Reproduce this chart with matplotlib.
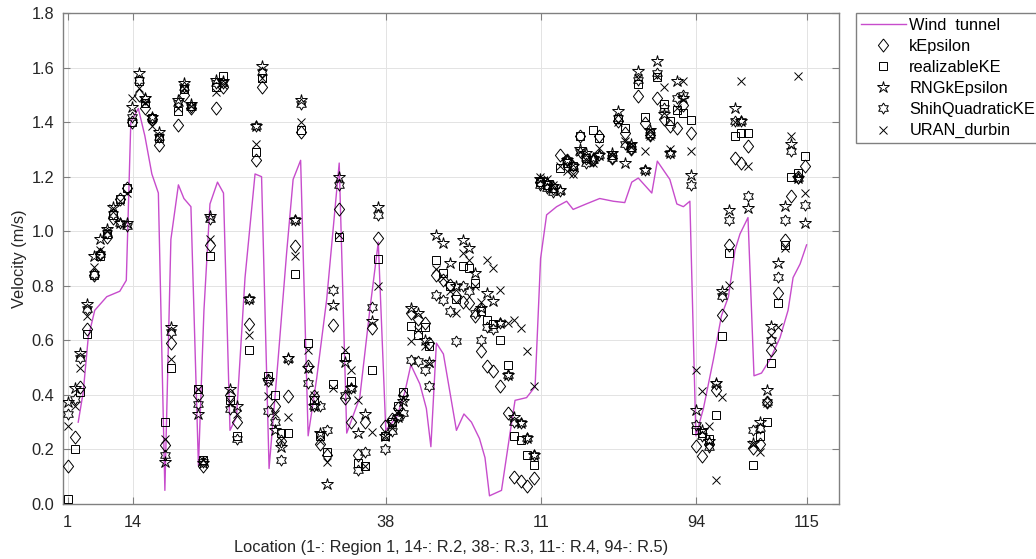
import numpy as np
import matplotlib
matplotlib.use("Agg")
import matplotlib.pyplot as plt

plt.rcParams["font.family"] = ["Liberation Sans", "DejaVu Sans"]
plt.rcParams["font.size"] = 11.8

# ── Data ───────────────────────────────────────────────────────
# wind tunnel measurement (line)
WT_X = [3.1, 4.1, 5.1, 6.4, 8.8, 11.4, 12.7, 13.6, 15.1, 16.4, 17.8, 19.1, 20.4, 21.6,
        23.1, 24.2, 25.6, 27.1, 28.2, 29.4, 30.9, 32.1, 33.4, 34.7, 36.4, 38.4, 39.7,
        41.2, 43.0, 44.7, 46.0, 47.5, 49.0, 50.7, 52.7, 55.2, 56.7, 57.7, 59.3, 61.3,
        63.0, 64.5, 66.7, 68.3, 69.5, 71.3, 72.6, 73.5, 74.6, 76.0, 77.3, 78.6, 80.1,
        81.6, 83.2, 84.3, 85.2, 87.6, 89.3, 90.3, 92.6, 94.3, 95.4, 96.6, 98.6, 100.6,
        101.9, 104.5, 107.2, 109.9, 112.2, 113.6, 114.9, 117.6, 118.7, 121.2, 122.6,
        123.9, 125.2, 126.4, 127.9, 129.9, 131.5, 132.9, 134.2, 135.2, 136.8, 138.0,
        139.5, 141.2, 143.2, 144.8, 145.8, 147.2, 148.5]
WT_V = [0.30, 0.41, 0.61, 0.71, 0.76, 0.78, 0.82, 1.40, 1.45, 1.35, 1.21, 1.14, 0.05, 0.97,
        1.17, 1.12, 1.09, 0.14, 0.71, 1.10, 1.18, 1.14, 0.27, 0.32, 0.83, 1.21, 1.20,
        0.13, 0.53, 0.92, 1.19, 1.26, 0.25, 0.46, 0.75, 1.25, 0.26, 0.31, 0.39, 0.71,
        0.96, 0.27, 0.32, 0.41, 0.51, 0.44, 0.35, 0.21, 0.59, 0.55, 0.41, 0.27, 0.33,
        0.30, 0.24, 0.17, 0.03, 0.05, 0.26, 0.38, 0.39, 0.43, 0.90, 1.06, 1.09, 1.11,
        1.08, 1.10, 1.12, 1.11, 1.105, 1.18, 1.195, 1.14, 1.257, 1.19, 1.10,
        1.09, 1.11, 0.25, 0.35, 0.53, 0.69, 0.76, 0.93, 0.99, 1.05, 0.47,
        0.48, 0.53, 0.61, 0.71, 0.83, 0.88, 0.95]

# CFD sample locations (shared by all turbulence models)
LOC = [1.0, 2.4, 3.5, 4.9, 6.2, 7.4, 8.8, 10.1, 11.4, 12.8,
       13.9, 15.2, 16.5, 17.9, 19.2, 20.5, 21.6, 23.0, 24.3, 25.6,
       27.0, 28.1, 29.5, 30.7, 32.0, 33.4, 34.8, 37.2, 38.5, 39.7,
       41.0, 42.4, 43.6, 45.0, 46.4, 47.5, 48.9, 50.1, 51.4, 52.7,
       54.0, 55.2, 56.3, 57.6, 59.0, 60.4, 61.8, 63.0, 64.4, 65.7,
       66.9, 67.9, 69.6, 70.9, 72.3, 73.2, 74.6, 76.0, 77.3, 78.6,
       79.9, 81.1, 82.3, 83.5, 84.7, 85.9, 87.3, 88.8, 90.1, 91.4,
       92.7, 94.1, 95.3, 96.6, 97.9, 99.2, 100.6, 101.9, 103.2, 104.5,
       105.8, 107.1, 109.6, 110.9, 112.2, 113.5, 114.9, 116.2, 117.3, 118.7,
       120.0, 121.2, 122.6, 123.9, 125.4, 126.4, 127.7, 129.1, 130.4, 131.6,
       133.1, 134.2, 135.5, 136.9, 137.8, 139.2, 140.6, 141.4, 142.7, 144.1,
       145.4, 146.7, 148.1]

K_EPS = [.14, .245, .43, .64, .84, .915, .98, 1.05, 1.12, 1.16,
         1.40, 1.50, 1.45, 1.41, 1.315, .215, .59, 1.39, 1.50, 1.45,
         .40, .14, .95, 1.45, 1.53, .40, .30, .66, 1.26, 1.53,
         .455, .36, .23, .395, .945, 1.365, .505, .395, .22, .18,
         .657, 1.08, .39, .30, .18, .30, .645, .975, .285, .31,
         .352, .40, .70, .68, .663, .59, .84, .82, .804, .761,
         .74, .737, .688, .56, .505, .486, .431, .333, .10, .083,
         .065, .095, 1.18, 1.17, 1.16, 1.28, 1.26, 1.22, 1.348, 1.27,
         1.262, 1.348, 1.27, 1.403, 1.36, 1.30, 1.494, 1.397, 1.354, 1.488,
         1.41, 1.384, 1.378, 1.464, 1.36, .211, .175, .22, .419, .694,
         .95, 1.268, 1.25, 1.311, .205, .22, .375, .566, .773, .969,
         1.128, 1.20, 1.238]

REAL_KE = [.02, .20, .41, .625, .84, .91, .99, 1.06, 1.12, 1.16,
           1.40, 1.55, 1.47, 1.415, 1.34, .30, .50, 1.44, 1.52, 1.46,
           .42, .16, .91, 1.53, 1.57, .38, .25, .565, 1.29, 1.56,
           .47, .40, .26, .26, .845, 1.37, .59, .38, .25, .19,
           .44, .98, .54, .45, .15, .14, .49, .90, .25, .30,
           .36, .41, .651, .62, .65, .58, .896, .847, .80, .75,
           .871, .865, .81, .706, .676, .66, .602, .51, .248, .236,
           .18, .144, 1.18, 1.17, 1.16, 1.23, 1.25, 1.24, 1.348, 1.27,
           1.372, 1.342, 1.28, 1.41, 1.378, 1.31, 1.54, 1.42, 1.36, 1.567,
           1.467, 1.403, 1.445, 1.433, 1.409, .27, .26, .24, .327, .615,
           .92, 1.348, 1.36, 1.36, .143, .25, .30, .517, .737, .95,
           1.20, 1.214, 1.275]

RNG_KE = [.375, .425, .555, .735, .91, .97, 1.01, 1.09, 1.03, 1.03,
          1.455, 1.58, 1.49, 1.42, 1.365, .155, .65, 1.48, 1.545, 1.465,
          .33, .15, 1.055, 1.555, 1.55, .42, .36, .75, 1.385, 1.605,
          .455, .27, .21, .535, 1.04, 1.48, .50, .36, .26, .075,
          .73, 1.20, .52, .425, .26, .33, .67, 1.09, .25, .30,
          .32, .376, .718, .70, .60, .52, .987, .957, .884, .80,
          .969, .938, .847, .718, .773, .743, .663, .474, .32, .297,
          .242, .181, 1.19, 1.18, 1.165, 1.15, 1.262, 1.238, 1.30, 1.286,
          1.27, 1.28, 1.286, 1.442, 1.25, 1.318, 1.586, 1.226, 1.37, 1.623,
          1.43, 1.286, 1.549, 1.488, 1.206, .346, .272, .23, .443, .78,
          1.079, 1.451, 1.403, 1.085, .222, .30, .418, .651, .884, 1.091,
          1.318, 1.196, 1.03]

SHIH_KE = [.33, .385, .535, .715, .845, .915, .995, 1.065, 1.03, 1.02,
           1.42, 1.555, 1.485, 1.415, 1.345, .18, .63, 1.47, 1.53, 1.455,
           .365, .155, 1.045, 1.545, 1.545, .35, .24, .75, 1.385, 1.585,
           .34, .30, .16, .53, 1.04, 1.465, .445, .36, .36, .27,
           .786, 1.17, .40, .425, .125, .19, .724, 1.06, .20, .266,
           .32, .333, .529, .523, .49, .431, .767, .749, .706, .596,
           .798, .78, .70, .602, .65, .64, .663, .474, .30, .297,
           .242, .181, 1.17, 1.16, 1.145, 1.146, 1.262, 1.238, 1.29, 1.25,
           1.262, 1.28, 1.268, 1.415, 1.32, 1.30, 1.555, 1.226, 1.354, 1.58,
           1.451, 1.286, 1.488, 1.50, 1.17, .291, .25, .21, .44, .761,
           1.042, 1.403, 1.403, 1.128, .27, .277, .375, .602, .834, 1.042,
           1.293, 1.196, 1.097]

URAN = [.285, .36, .50, .69, .87, .93, 1.0, 1.085, 1.11, 1.14,
        1.49, 1.525, 1.47, 1.385, 1.345, .24, .53, 1.45, 1.525, 1.46,
        .42, .16, .97, 1.51, 1.535, .37, .33, .62, 1.32, 1.56,
        .395, .33, .235, .32, .91, 1.40, .565, .40, .23, .155,
        .425, .985, .566, .49, .38, .14, .265, .80, .25, .28,
        .34, .39, .596, .639, .58, .517, .86, .83, .78, .70,
        .92, .896, .80, .74, .896, .865, .786, .663, .676, .645,
        .56, .431, 1.20, 1.19, 1.17, 1.238, 1.22, 1.21, 1.29, 1.26,
        1.25, 1.305, 1.28, 1.40, 1.33, 1.31, 1.56, 1.293, 1.35, 1.57,
        1.528, 1.30, 1.45, 1.549, 1.293, .492, .413, .285, .089, .393,
        .804, 1.40, 1.549, 1.238, .22, .19, .37, .62, .65, .938,
        1.348, 1.57, 1.14]

TICK_POS = [1, 14, 64.5, 95.5, 126.5, 148.5]
TICK_LAB = ["1", "14", "38", "11", "94", "115"]

# ── Marker shapes (MATLAB look-alikes) ─────────────────────────
DIAMOND = [(0, 1), (0.78, 0), (0, -1), (-0.78, 0), (0, 1)]
ang = np.deg2rad(90 + 30 * np.arange(12))
rad = np.where(np.arange(12) % 2 == 0, 1.0, 1 / np.sqrt(3))
HEXAGRAM = list(zip(rad * np.cos(ang), rad * np.sin(ang)))
HEXAGRAM.append(HEXAGRAM[0])

fig = plt.figure(figsize=(10.36, 5.59), dpi=100)
ax = fig.add_axes([0.0605, 0.0984, 0.7495, 0.8783])

ax.plot(WT_X, WT_V, color="#c74ccc", linewidth=1.0, label="Wind  tunnel", zorder=2)

mk = dict(linestyle="none", color="black", markerfacecolor="none",
          markeredgewidth=0.7, zorder=3)
ax.plot(LOC, K_EPS, marker=DIAMOND, markersize=9.4, label="kEpsilon", **mk)
ax.plot(LOC, REAL_KE, marker="s", markersize=5.8, label="realizableKE", **mk)
ax.plot(LOC, RNG_KE, marker="*", markersize=8.8, label="RNGkEpsilon", **mk)
ax.plot(LOC, SHIH_KE, marker=HEXAGRAM, markersize=8.0, label="ShihQuadraticKE", **mk)
ax.plot(LOC, URAN, marker="x", markersize=5.8, label="URAN_durbin", **mk)

ax.set_xlim(0, 155)
ax.set_ylim(0, 1.8)
ax.set_xticks(TICK_POS)
ax.set_xticklabels(TICK_LAB)
ax.set_yticks(np.arange(0, 1.81, 0.2))
ax.yaxis.set_major_formatter(matplotlib.ticker.FormatStrFormatter("%.1f"))

ax.grid(True, color="#e3e3e3", linewidth=0.7)
ax.set_axisbelow(True)
for s in ax.spines.values():
    s.set_color("#808080")
    s.set_linewidth(1.0)
ax.tick_params(direction="in", top=True, right=True, colors="#808080",
               labelcolor="#262626", labelsize=11.8, length=5)
ax.tick_params(axis="x", pad=8)
ax.tick_params(axis="y", pad=6)

ax.set_xlabel("Location (1-: Region 1, 14-: R.2, 38-: R.3, 11-: R.4, 94-: R.5)",
              color="#262626", labelpad=7)
ax.set_ylabel("Velocity (m/s)", color="#262626", labelpad=3)

leg = ax.legend(loc="upper left", bbox_to_anchor=(856 / 1036, 1 - 13 / 559),
                bbox_transform=fig.transFigure, fancybox=False, framealpha=1,
                edgecolor="#808080", handlelength=2.75, handletextpad=0.2,
                borderpad=0.3, labelspacing=0.37, borderaxespad=0, fontsize=11.8)
leg.get_frame().set_linewidth(1.0)

fig.savefig("out.png", dpi=100)
